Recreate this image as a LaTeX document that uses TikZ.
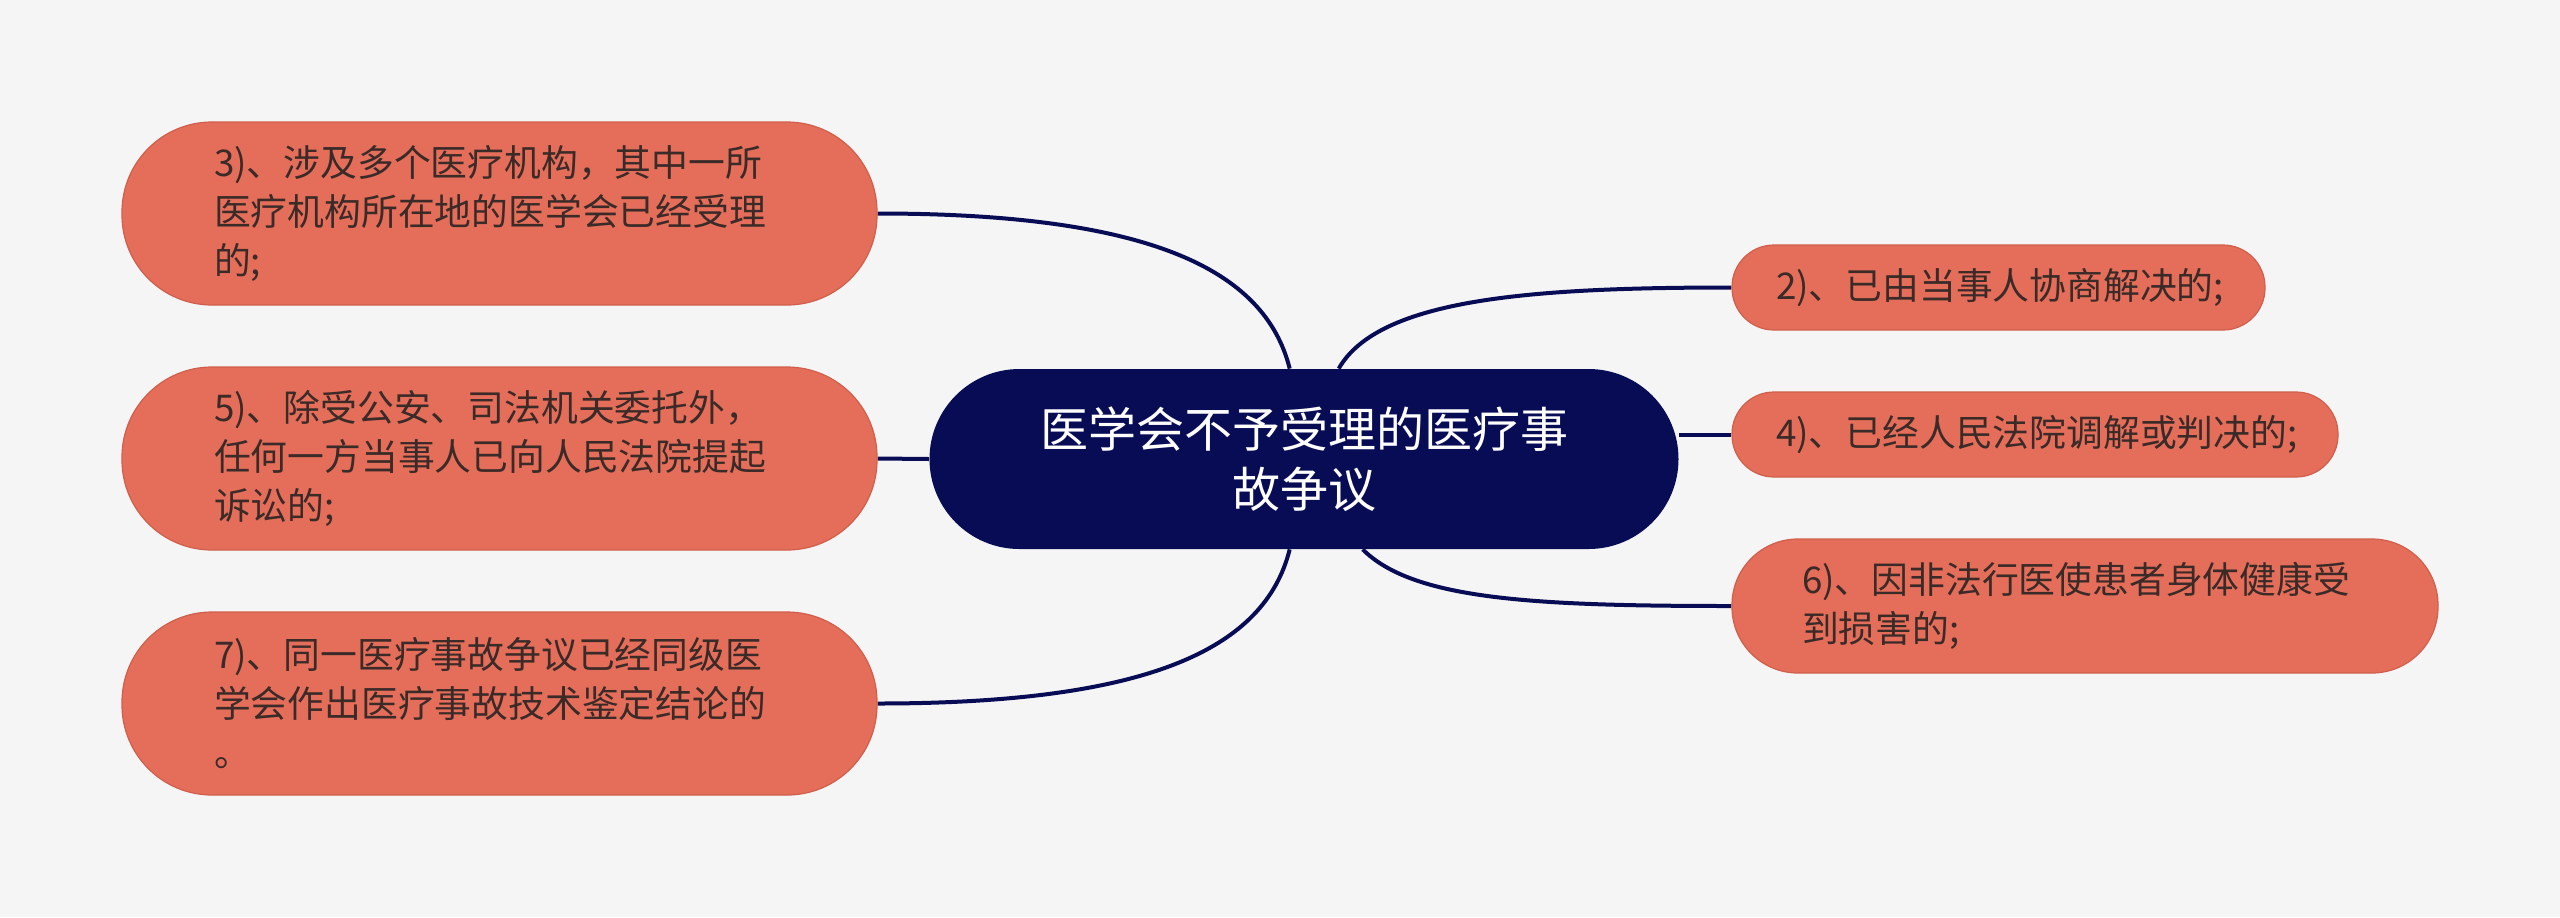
\documentclass[tikz,border=0pt]{standalone}
\usepackage{fontspec}
\setmainfont{Noto Sans CJK SC}
\definecolor{bgc}{HTML}{F5F5F5}
\definecolor{coral}{HTML}{E46E5A}
\definecolor{coraledge}{HTML}{CF5F4C}
\definecolor{navy}{HTML}{070C55}
\definecolor{txt}{HTML}{3A2A28}
\pgfdeclarelayer{bgfill}
\pgfdeclarelayer{edges}
\pgfsetlayers{bgfill,edges,main}
\begin{document}
\begin{tikzpicture}[x=0.5pt,y=-0.5pt,
  leaf/.style={draw=coraledge, line width=0.6pt, fill=coral, text=txt, align=left,
    font=\fontsize{18.4pt}{24.5pt}\selectfont, inner ysep=0pt},
  root/.style={fill=navy, text=white, align=center,
    font=\fontsize{24pt}{30pt}\selectfont, minimum width=374.5pt, minimum height=90pt,
    rounded corners=45pt, text width=300pt},
  conn/.style={draw=navy, line width=2pt}]
\useasboundingbox (0,0) rectangle (2560,917);
\begin{pgfonlayer}{bgfill}
\fill[bgc] (0,0) rectangle (2560,917);
\end{pgfonlayer}

\node[root] (c) at (1304,459) {医学会不予受理的医疗事\\故争议};

\node[leaf, minimum width=377.5pt, minimum height=91.5pt, rounded corners=45pt,
  inner xsep=46pt, text width=285.5pt] (b3) at (499.5,213.5)
  {3)、涉及多个医疗机构，其中一所\\医疗机构所在地的医学会已经受理\\的;};
\node[leaf, minimum width=377.5pt, minimum height=91.5pt, rounded corners=45pt,
  inner xsep=46pt, text width=285.5pt] (b5) at (499.5,458.5)
  {5)、除受公安、司法机关委托外，\\任何一方当事人已向人民法院提起\\诉讼的;};
\node[leaf, minimum width=377.5pt, minimum height=91.5pt, rounded corners=45pt,
  inner xsep=46pt, text width=285.5pt] (b7) at (499.5,703.5)
  {7)、同一医疗事故争议已经同级医\\学会作出医疗事故技术鉴定结论的\\。};

\node[leaf, minimum width=266.5pt, minimum height=42.5pt, rounded corners=21pt,
  inner xsep=22pt, text width=222.5pt] (b2) at (1998.5,287.5)
  {2)、已由当事人协商解决的;};
\node[leaf, minimum width=303pt, minimum height=42.5pt, rounded corners=21pt,
  inner xsep=22pt, text width=259pt] (b4) at (2035,434.5)
  {4)、已经人民法院调解或判决的;};
\node[leaf, minimum width=353pt, minimum height=67pt, rounded corners=33pt,
  inner xsep=35pt, text width=283pt] (b6) at (2085,606)
  {6)、因非法行医使患者身体健康受\\到损害的;};

\begin{pgfonlayer}{edges}
\draw[conn] (b3.east) .. controls +(270,0) and +(-25,-100) .. (c.99);
\draw[conn] (b5.east) -- (c.west);
\draw[conn] (b7.east) .. controls +(270,0) and +(-25,100) .. (c.261);
\draw[conn] (c.69) .. controls +(40,-70) and +(-200,0) .. (b2.west);
\draw[conn] (c.east |- b4.west) -- (b4.west);
\draw[conn] (c.303) .. controls +(50,50) and +(-200,0) .. (b6.west);
\end{pgfonlayer}
\end{tikzpicture}
\end{document}
